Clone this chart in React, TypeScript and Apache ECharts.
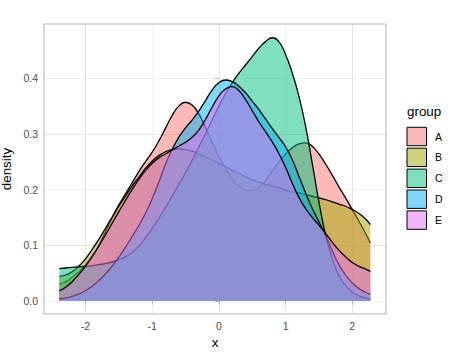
import React, { useEffect, useRef } from "react";
import * as echarts from "echarts";

const xs = [
  -2.39, -2.3, -2.2, -2.1, -2.0, -1.9, -1.8, -1.7, -1.6, -1.5, -1.4, -1.3, -1.2, -1.1, -1.0, -0.9,
  -0.8, -0.7, -0.6, -0.5, -0.4, -0.3, -0.2, -0.1, 0, 0.1, 0.2, 0.3, 0.4, 0.5, 0.6, 0.7,
  0.8, 0.9, 1.0, 1.1, 1.2, 1.3, 1.4, 1.5, 1.6, 1.7, 1.8, 1.9, 2.0, 2.1, 2.2, 2.27,
];

const groups = ["A", "B", "C", "D", "E"];

const densityA = [
  0.03, 0.034, 0.042, 0.052, 0.064, 0.08, 0.099, 0.124, 0.149, 0.172, 0.192, 0.212, 0.232, 0.25, 0.267, 0.287,
  0.31, 0.333, 0.35, 0.357, 0.352, 0.336, 0.312, 0.285, 0.26, 0.238, 0.219, 0.206, 0.199, 0.198, 0.204, 0.216,
  0.233, 0.25, 0.264, 0.275, 0.282, 0.284, 0.278, 0.264, 0.246, 0.226, 0.205, 0.185, 0.164, 0.143, 0.121, 0.104,
];
const densityB = [
  0.044, 0.046, 0.052, 0.062, 0.075, 0.092, 0.11, 0.13, 0.15, 0.17, 0.188, 0.206, 0.222, 0.238, 0.251, 0.261,
  0.268, 0.272, 0.273, 0.272, 0.269, 0.264, 0.259, 0.253, 0.247, 0.241, 0.235, 0.229, 0.223, 0.218, 0.214, 0.21,
  0.206, 0.203, 0.199, 0.196, 0.194, 0.191, 0.188, 0.185, 0.182, 0.178, 0.174, 0.17, 0.164, 0.157, 0.147, 0.137,
];
const densityC = [
  0.058, 0.059, 0.06, 0.061, 0.062, 0.063, 0.065, 0.067, 0.07, 0.074, 0.079, 0.087, 0.098, 0.113, 0.13, 0.148,
  0.168, 0.188, 0.209, 0.23, 0.252, 0.276, 0.3, 0.325, 0.35, 0.372, 0.392, 0.409, 0.424, 0.439, 0.454, 0.466,
  0.473, 0.466, 0.443, 0.41, 0.368, 0.314, 0.247, 0.178, 0.118, 0.075, 0.045, 0.027, 0.016, 0.009, 0.005, 0.003,
];
const densityD = [
  0.004, 0.005, 0.008, 0.012, 0.018, 0.026, 0.036, 0.048, 0.062, 0.078, 0.096, 0.115, 0.135, 0.157, 0.183, 0.213,
  0.245, 0.272, 0.294, 0.311, 0.325, 0.341, 0.36, 0.379, 0.392, 0.397, 0.394, 0.386, 0.374, 0.359, 0.344, 0.327,
  0.31, 0.294, 0.277, 0.254, 0.224, 0.194, 0.166, 0.142, 0.117, 0.09, 0.065, 0.046, 0.032, 0.022, 0.015, 0.012,
];
const densityE = [
  0.018, 0.024, 0.034, 0.047, 0.062, 0.079, 0.098, 0.118, 0.139, 0.16, 0.18, 0.2, 0.218, 0.234, 0.247, 0.257,
  0.264, 0.271, 0.278, 0.285, 0.294, 0.307, 0.326, 0.348, 0.368, 0.381, 0.385, 0.378, 0.362, 0.342, 0.322, 0.304,
  0.286, 0.265, 0.24, 0.212, 0.186, 0.166, 0.15, 0.136, 0.121, 0.105, 0.091, 0.079, 0.069, 0.062, 0.057, 0.053,
];

const xTickValues = [-2, -1, 0, 1, 2];
const yTickValues = [0, 0.1, 0.2, 0.3, 0.4];

const densities = [densityA, densityB, densityC, densityD, densityE];
const COLORS = ["#F8766D", "#A3A500", "#00BF7D", "#00B0F6", "#E76BF3"];

const FONT = "'Liberation Sans', Arial, Helvetica, sans-serif";
const X_MIN = -2.619;
const X_MAX = 2.505;
const Y_MIN = -0.0237;
const Y_MAX = 0.4977;

const GRID = { left: 44, top: 24, width: 342, height: 290 };

function rgba(hex: string, a: number) {
  const n = parseInt(hex.slice(1), 16);
  return `rgba(${(n >> 16) & 255},${(n >> 8) & 255},${n & 255},${a})`;
}

export default function App() {
  const ref = useRef<HTMLDivElement>(null);
  useEffect(() => {
    if (!ref.current) return;
    const chart = echarts.init(ref.current, null, { renderer: "svg" });

    const legendX = 407;
    const legendY0 = 127.3;
    const keyW = 19.5;
    const keyH = 18.4;
    const pitch = 20.9;

    const legendEls: any[] = [
      {
        type: "text",
        left: legendX,
        top: 105,
        style: { text: "group", font: `13.4px ${FONT}`, fill: "#000" },
      },
    ];
    groups.forEach((g, i) => {
      legendEls.push({
        type: "rect",
        shape: { x: legendX, y: legendY0 + i * pitch, width: keyW, height: keyH },
        style: { fill: rgba(COLORS[i], 0.5), stroke: "#000", lineWidth: 1 },
      });
      legendEls.push({
        type: "text",
        x: 435,
        y: legendY0 + i * pitch + keyH / 2,
        style: { text: g, font: `10.5px ${FONT}`, fill: "#000", verticalAlign: "middle", align: "left" },
      });
    });

    chart.setOption({
      animation: false,
      backgroundColor: "#fff",
      grid: { ...GRID, containLabel: false, outerBoundsMode: "none" },
      xAxis: {
        type: "value",
        min: X_MIN,
        max: X_MAX,
        splitNumber: 10,
        axisLine: { show: false },
        axisTick: { show: true, length: 4, customValues: xTickValues, lineStyle: { color: "#b3b3b3", width: 1 } },
        axisLabel: {
          customValues: xTickValues,
          color: "#4d4d4d",
          fontSize: 10.5,
          fontFamily: FONT,
          margin: 6,
          formatter: (v: number) => (Math.abs(v - Math.round(v)) < 1e-6 ? String(Math.round(v)) : ""),
        },
        splitLine: { show: true, lineStyle: { color: ["#e4e4e4", "#f2f2f2"], width: 1 } },
        name: "x",
        nameLocation: "middle",
        nameGap: 18,
        nameTextStyle: { color: "#000", fontSize: 13.4, fontFamily: FONT },
      },
      yAxis: {
        type: "value",
        min: Y_MIN,
        max: Y_MAX,
        splitNumber: 10,
        axisLine: { show: false },
        axisTick: { show: true, length: 4, customValues: yTickValues, lineStyle: { color: "#b3b3b3", width: 1 } },
        axisLabel: {
          customValues: yTickValues,
          color: "#4d4d4d",
          fontSize: 10.5,
          fontFamily: FONT,
          margin: 6,
          formatter: (v: number) =>
            Math.abs(v * 10 - Math.round(v * 10)) < 1e-6 ? (Math.round(v * 10) / 10).toFixed(1) : "",
        },
        splitLine: { show: true, lineStyle: { color: ["#f2f2f2", "#e4e4e4"], width: 1 } },
        name: "density",
        nameLocation: "middle",
        nameGap: 19,
        nameRotate: 90,
        nameTextStyle: { color: "#000", fontSize: 13.4, fontFamily: FONT },
      },
      series: groups.map((g, i) => ({
        type: "line",
        name: g,
        data: xs.map((x, j) => [x, densities[i][j]]),
        z: 2 + i,
        showSymbol: false,
        symbol: "none",
        smooth: 0.5,
        silent: true,
        lineStyle: { color: "#000", width: 1.3 },
        itemStyle: { color: rgba(COLORS[i], 0.5) },
        areaStyle: { color: rgba(COLORS[i], 0.5), opacity: 1 },
      })),
      graphic: [
        {
          type: "rect",
          z: 100,
          shape: { x: GRID.left, y: GRID.top, width: GRID.width, height: GRID.height },
          style: { fill: "none", stroke: "#b3b3b3", lineWidth: 1 },
        },
        ...legendEls,
      ],
    });
    return () => chart.dispose();
  }, []);

  return (
    <div
      ref={ref}
      style={{ position: "fixed", left: 0, top: 0, width: 474, height: 355, background: "#fff" }}
    />
  );
}
